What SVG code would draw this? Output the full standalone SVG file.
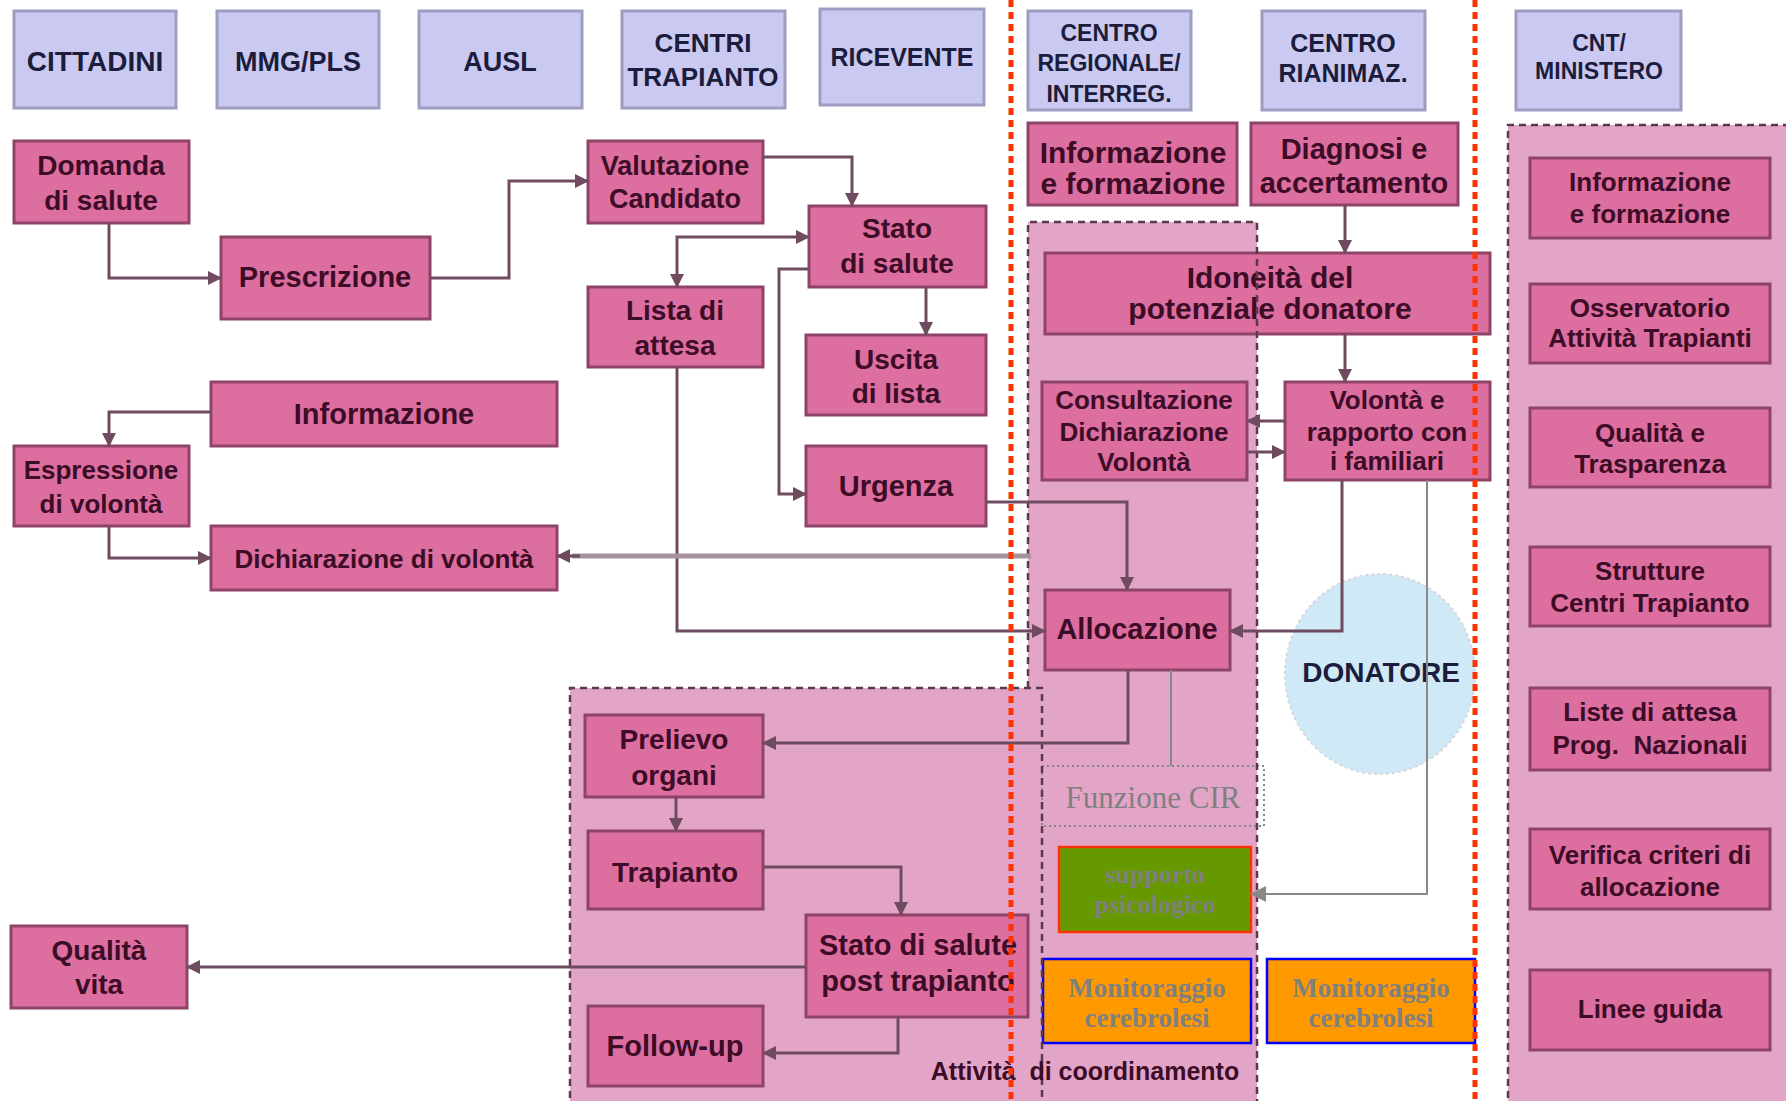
<svg xmlns="http://www.w3.org/2000/svg" width="1786" height="1101" viewBox="0 0 1786 1101">
<defs>
<style>
.hdr{fill:#c9c9f2;stroke:#9d9dc2;stroke-width:3}
.ht{font-family:"Liberation Sans",Arial,sans-serif;font-weight:bold;fill:#1c1c3c;text-anchor:middle}
.box{fill:#dc6ea0;stroke:#8e4468;stroke-width:3}
.bt{font-family:"Liberation Sans",Arial,sans-serif;font-weight:bold;fill:#3d0c26;text-anchor:middle}
.reg{fill:#e3a5c7;stroke:none}
.regl{fill:none;stroke:#5a3a4a;stroke-width:2.5;stroke-dasharray:7 5}
.con{fill:none;stroke:#6e4b5e;stroke-width:3}
.thin{fill:none;stroke:#888888;stroke-width:2}
.red{stroke:#ff3300;stroke-width:5;stroke-dasharray:7 5}
.st{font-family:"Liberation Serif","Times New Roman",serif;font-weight:bold;fill:#808080;text-anchor:middle}
</style>
<marker id="ah" viewBox="0 0 14 14" refX="13" refY="7" markerWidth="14" markerHeight="14" markerUnits="userSpaceOnUse" orient="auto-start-reverse"><path d="M0,0 L14,7 L0,14 z" fill="#6e4b5e"/></marker>
<marker id="ag" viewBox="0 0 16 16" refX="15" refY="8" markerWidth="16" markerHeight="16" markerUnits="userSpaceOnUse" orient="auto"><path d="M0,0 L16,8 L0,16 z" fill="#888888"/></marker>
</defs>
<rect x="0" y="0" width="1786" height="1101" fill="#ffffff"/>

<g id="regions">
<rect class="reg" x="1508" y="125" width="290" height="990"/>
<path class="reg" d="M1028,222 H1257 V1110 H1042 V688 H1028 Z"/>
<rect class="reg" x="570" y="688" width="472" height="420"/>
</g>

<g id="donatore">
<ellipse cx="1380" cy="674" rx="95" ry="100" fill="#cfe9f7" stroke="#d6d6de" stroke-width="2" stroke-dasharray="3 3"/>
<text class="ht" x="1381" y="682" font-size="28" fill="#1a2a3a">DONATORE</text>
</g>

<g id="headers">
<g id="h-cittadini"><rect class="hdr" x="14" y="11" width="162" height="97"/><text class="ht" x="95" y="71" font-size="28">CITTADINI</text></g>
<g id="h-mmg"><rect class="hdr" x="217" y="11" width="162" height="97"/><text class="ht" x="298" y="71" font-size="27">MMG/PLS</text></g>
<g id="h-ausl"><rect class="hdr" x="419" y="11" width="163" height="97"/><text class="ht" x="500" y="71" font-size="27">AUSL</text></g>
<g id="h-centri"><rect class="hdr" x="622" y="11" width="163" height="97"/><text class="ht" x="703" y="52" font-size="26">CENTRI</text><text class="ht" x="703" y="86" font-size="26">TRAPIANTO</text></g>
<g id="h-ricevente"><rect class="hdr" x="820" y="9" width="164" height="96"/><text class="ht" x="902" y="66" font-size="25">RICEVENTE</text></g>
<g id="h-centroreg"><rect class="hdr" x="1028" y="11" width="163" height="99"/><text class="ht" x="1109" y="41" font-size="23">CENTRO</text><text class="ht" x="1109" y="71" font-size="23">REGIONALE/</text><text class="ht" x="1109" y="102" font-size="23">INTERREG.</text></g>
<g id="h-rianimaz"><rect class="hdr" x="1262" y="11" width="163" height="99"/><text class="ht" x="1343" y="52" font-size="25">CENTRO</text><text class="ht" x="1343" y="82" font-size="25">RIANIMAZ.</text></g>
<g id="h-cnt"><rect class="hdr" x="1516" y="11" width="165" height="99"/><text class="ht" x="1599" y="51" font-size="23">CNT/</text><text class="ht" x="1599" y="79" font-size="23">MINISTERO</text></g>
</g>

<g id="nodes">
<g id="n-domanda"><rect class="box" x="14" y="141" width="175" height="82"/><text class="bt" x="101" y="175" font-size="28">Domanda</text><text class="bt" x="101" y="210" font-size="28">di salute</text></g>
<g id="n-prescrizione"><rect class="box" x="221" y="237" width="209" height="82"/><text class="bt" x="325" y="287" font-size="29">Prescrizione</text></g>
<g id="n-valutazione"><rect class="box" x="588" y="141" width="175" height="82"/><text class="bt" x="675" y="175" font-size="27">Valutazione</text><text class="bt" x="675" y="208" font-size="27">Candidato</text></g>
<g id="n-stato"><rect class="box" x="809" y="206" width="177" height="81"/><text class="bt" x="897" y="238" font-size="28">Stato</text><text class="bt" x="897" y="273" font-size="28">di salute</text></g>
<g id="n-lista"><rect class="box" x="588" y="287" width="175" height="80"/><text class="bt" x="675" y="320" font-size="28">Lista di</text><text class="bt" x="675" y="355" font-size="28">attesa</text></g>
<g id="n-uscita"><rect class="box" x="806" y="335" width="180" height="80"/><text class="bt" x="896" y="369" font-size="28">Uscita</text><text class="bt" x="896" y="403" font-size="28">di lista</text></g>
<g id="n-informazione"><rect class="box" x="211" y="382" width="346" height="64"/><text class="bt" x="384" y="424" font-size="29">Informazione</text></g>
<g id="n-espressione"><rect class="box" x="14" y="446" width="175" height="80"/><text class="bt" x="101" y="479" font-size="26">Espressione</text><text class="bt" x="101" y="513" font-size="26">di volontà</text></g>
<g id="n-dichiarazione"><rect class="box" x="211" y="526" width="346" height="64"/><text class="bt" x="384" y="568" font-size="26">Dichiarazione di volontà</text></g>
<g id="n-urgenza"><rect class="box" x="806" y="446" width="180" height="80"/><text class="bt" x="896" y="496" font-size="29">Urgenza</text></g>
<g id="n-infoform-cr"><rect class="box" x="1028" y="123" width="209" height="82"/><text class="bt" x="1133" y="163" font-size="30">Informazione</text><text class="bt" x="1133" y="194" font-size="30">e formazione</text></g>
<g id="n-diagnosi"><rect class="box" x="1251" y="123" width="207" height="82"/><text class="bt" x="1354" y="159" font-size="29">Diagnosi e</text><text class="bt" x="1354" y="193" font-size="29">accertamento</text></g>
<g id="n-idoneita"><rect class="box" x="1045" y="253" width="445" height="81"/><text class="bt" x="1270" y="288" font-size="30">Idoneità del</text><text class="bt" x="1270" y="319" font-size="30">potenziale donatore</text></g>
<g id="n-consultazione"><rect class="box" x="1042" y="382" width="205" height="98"/><text class="bt" x="1144" y="409" font-size="26">Consultazione</text><text class="bt" x="1144" y="441" font-size="26">Dichiarazione</text><text class="bt" x="1144" y="471" font-size="26">Volontà</text></g>
<g id="n-volonta"><rect class="box" x="1285" y="382" width="205" height="98"/><text class="bt" x="1387" y="409" font-size="26">Volontà e</text><text class="bt" x="1387" y="441" font-size="26">rapporto con</text><text class="bt" x="1387" y="470" font-size="26">i familiari</text></g>
<g id="n-allocazione"><rect class="box" x="1045" y="590" width="185" height="80"/><text class="bt" x="1137" y="639" font-size="29">Allocazione</text></g>
<g id="n-prelievo"><rect class="box" x="585" y="715" width="178" height="82"/><text class="bt" x="674" y="749" font-size="28">Prelievo</text><text class="bt" x="674" y="785" font-size="28">organi</text></g>
<g id="n-trapianto"><rect class="box" x="588" y="831" width="175" height="78"/><text class="bt" x="675" y="882" font-size="28">Trapianto</text></g>
<g id="n-statopost"><rect class="box" x="806" y="915" width="222" height="102"/><text class="bt" x="918" y="955" font-size="29">Stato di salute</text><text class="bt" x="918" y="991" font-size="29">post trapianto</text></g>
<g id="n-followup"><rect class="box" x="588" y="1006" width="175" height="80"/><text class="bt" x="675" y="1056" font-size="29">Follow-up</text></g>
<g id="n-qualitavita"><rect class="box" x="11" y="926" width="176" height="82"/><text class="bt" x="99" y="960" font-size="28">Qualità</text><text class="bt" x="99" y="994" font-size="28">vita</text></g>

<g id="n-cnt-info"><rect class="box" x="1530" y="158" width="240" height="80"/><text class="bt" x="1650" y="191" font-size="26">Informazione</text><text class="bt" x="1650" y="223" font-size="26">e formazione</text></g>
<g id="n-cnt-oss"><rect class="box" x="1530" y="284" width="240" height="79"/><text class="bt" x="1650" y="317" font-size="26">Osservatorio</text><text class="bt" x="1650" y="347" font-size="26">Attività Trapianti</text></g>
<g id="n-cnt-qual"><rect class="box" x="1530" y="408" width="240" height="79"/><text class="bt" x="1650" y="442" font-size="26">Qualità e</text><text class="bt" x="1650" y="473" font-size="26">Trasparenza</text></g>
<g id="n-cnt-strut"><rect class="box" x="1530" y="547" width="240" height="79"/><text class="bt" x="1650" y="580" font-size="26">Strutture</text><text class="bt" x="1650" y="612" font-size="26">Centri Trapianto</text></g>
<g id="n-cnt-liste"><rect class="box" x="1530" y="688" width="240" height="82"/><text class="bt" x="1650" y="721" font-size="26">Liste di attesa</text><text class="bt" x="1650" y="754" font-size="26" xml:space="preserve">Prog.  Nazionali</text></g>
<g id="n-cnt-verifica"><rect class="box" x="1530" y="829" width="240" height="80"/><text class="bt" x="1650" y="864" font-size="26">Verifica criteri di</text><text class="bt" x="1650" y="896" font-size="26">allocazione</text></g>
<g id="n-cnt-linee"><rect class="box" x="1530" y="970" width="240" height="80"/><text class="bt" x="1650" y="1018" font-size="26">Linee guida</text></g>

<g id="n-funzionecir"><rect x="1042" y="766" width="222" height="60" fill="none" stroke="#888888" stroke-width="2" stroke-dasharray="2 3"/><text x="1153" y="808" font-family="'Liberation Serif','Times New Roman',serif" font-size="31" fill="#808080" text-anchor="middle">Funzione CIR</text></g>
<g id="n-supporto"><rect x="1059" y="847" width="192" height="85" fill="#669900" stroke="#ff3300" stroke-width="2.5"/><text class="st" x="1155" y="883" font-size="26">supporto</text><text class="st" x="1155" y="913" font-size="26">psicologico</text></g>
<g id="n-monit1"><rect x="1043" y="959" width="208" height="84" fill="#ff9900" stroke="#0000ff" stroke-width="2.5"/><text class="st" x="1147" y="997" font-size="27">Monitoraggio</text><text class="st" x="1147" y="1027" font-size="27">cerebrolesi</text></g>
<g id="n-monit2"><rect x="1267" y="959" width="208" height="84" fill="#ff9900" stroke="#0000ff" stroke-width="2.5"/><text class="st" x="1371" y="997" font-size="27">Monitoraggio</text><text class="st" x="1371" y="1027" font-size="27">cerebrolesi</text></g>
</g>

<g id="region-outlines">
<path class="regl" d="M1508,1110 V125 H1800"/>
<path class="regl" d="M1028,688 V222 H1257 V1110"/>
<path class="regl" d="M570,1110 V688 H1042 V1110"/>
<text class="bt" x="1085" y="1080" font-size="25" xml:space="preserve">Attività  di coordinamento</text>
</g>

<g id="connectors">
<path class="con" d="M109,223 V278 H221" marker-end="url(#ah)"/>
<path class="con" d="M430,278 H509 V181 H588" marker-end="url(#ah)"/>
<path class="con" d="M763,157 H852 V206" marker-end="url(#ah)"/>
<path class="con" d="M809,237 H677 V287" marker-start="url(#ah)" marker-end="url(#ah)"/>
<path class="con" d="M926,287 V335" marker-end="url(#ah)"/>
<path class="con" d="M809,269 H779 V494 H806" marker-end="url(#ah)"/>
<path class="con" d="M677,367 V631 H1045" marker-end="url(#ah)"/>
<path class="con" d="M986,502 H1127 V590" marker-end="url(#ah)"/>
<path fill="none" stroke="#a4939c" stroke-width="5" d="M1031,556 H572"/>
<path class="con" d="M580,556 H557" marker-end="url(#ah)"/>
<path class="con" d="M211,412 H109 V446" marker-end="url(#ah)"/>
<path class="con" d="M109,526 V558 H211" marker-end="url(#ah)"/>
<path class="con" d="M1128,670 V743 H763" marker-end="url(#ah)"/>
<path class="thin" d="M1171,670 V766"/>
<path class="con" d="M1345,205 V253" marker-end="url(#ah)"/>
<path class="con" d="M1345,334 V382" marker-end="url(#ah)"/>
<path class="con" d="M1285,421 H1247" marker-end="url(#ah)"/>
<path class="con" d="M1247,452 H1285" marker-end="url(#ah)"/>
<path class="con" d="M1342,480 V631 H1230" marker-end="url(#ah)"/>
<path class="thin" d="M1427,480 V894 H1251" marker-end="url(#ag)"/>
<path class="con" d="M676,797 V831" marker-end="url(#ah)"/>
<path class="con" d="M763,867 H901 V915" marker-end="url(#ah)"/>
<path class="con" d="M806,967 H187" marker-end="url(#ah)"/>
<path class="con" d="M898,1017 V1053 H763" marker-end="url(#ah)"/>
</g>

<g id="separators">
<line class="red" x1="1011" y1="0" x2="1011" y2="1101"/>
<line class="red" x1="1475" y1="0" x2="1475" y2="1101"/>
</g>
</svg>
